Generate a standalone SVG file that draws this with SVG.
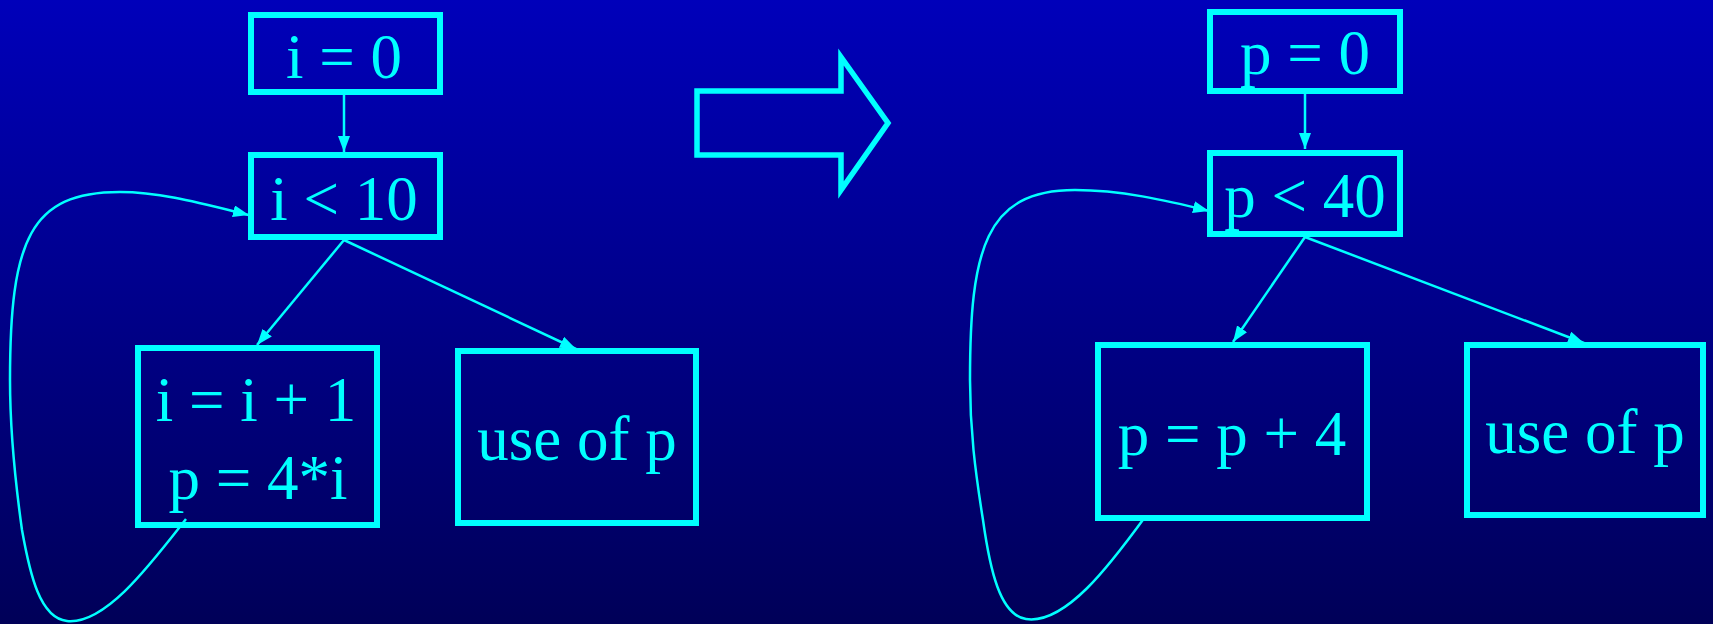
<svg xmlns="http://www.w3.org/2000/svg" width="1713" height="624" viewBox="0 0 1713 624">
<defs>
<linearGradient id="bg" x1="0" y1="0" x2="0" y2="1">
<stop offset="0" stop-color="#0000BA"/>
<stop offset="1" stop-color="#000058"/>
</linearGradient>
<marker id="ah" viewBox="0 0 16 12" refX="16" refY="6" markerWidth="16" markerHeight="12" markerUnits="userSpaceOnUse" orient="auto">
<path d="M0,0 L16,6 L0,12 Z" fill="#00FFFF"/>
</marker>
<style>
.box{fill:none;stroke:#00FFFF;stroke-width:6}
.t{font-family:"Liberation Serif","Times New Roman",serif;font-size:63px;fill:#00FFFF;text-anchor:middle}
.e{fill:none;stroke:#00FFFF;stroke-width:2.5;marker-end:url(#ah)}
</style>
</defs>
<rect width="1713" height="624" fill="url(#bg)"/>

<g id="connectors">
<line class="e" x1="344" y1="95" x2="344" y2="152"/>
<line class="e" x1="344" y1="240" x2="257" y2="345"/>
<line class="e" x1="344" y1="240" x2="576" y2="349"/>
<path class="e" d="M186,519 C150,565 105,625 67,621 C40,618 30,575 22,530 C15,480 10,430 10,380 C10,240 30,192 120,192 C160,192 200,203 249,215"/>
<line class="e" x1="1305" y1="93" x2="1305" y2="149"/>
<line class="e" x1="1305" y1="237" x2="1233" y2="342"/>
<line class="e" x1="1305" y1="237" x2="1584" y2="343"/>
<path class="e" d="M1145,517 C1110,565 1065,625 1026,619 C1000,615 990,570 983,520 C975,470 970,430 970,380 C970,250 985,190 1075,190 C1120,190 1165,200 1209,211"/>
</g>

<g id="n-i0">
<rect class="box" x="251" y="15" width="189" height="77"/>
<text class="t" x="344" y="78">i = 0</text>
</g>
<g id="n-ilt10">
<rect class="box" x="251" y="155" width="189" height="82"/>
<text class="t" x="344" y="220">i &lt; 10</text>
</g>
<g id="n-body-left">
<rect class="box" x="138" y="348" width="239" height="177"/>
<text class="t" x="256" y="421">i = i + 1</text>
<text class="t" x="258" y="499">p = 4*i</text>
</g>
<g id="n-use-left">
<rect class="box" x="458" y="351" width="238" height="172"/>
<text class="t" x="577" y="460">use of p</text>
</g>

<g id="big-arrow">
<polygon points="697,91 841,91 841,57 888,123 841,190 841,155 697,155" fill="none" stroke="#00FFFF" stroke-width="5.5"/>
</g>

<g id="n-p0">
<rect class="box" x="1210" y="12" width="190" height="79"/>
<text class="t" x="1305" y="74">p = 0</text>
</g>
<g id="n-plt40">
<rect class="box" x="1210" y="153" width="190" height="81"/>
<text class="t" x="1305" y="217">p &lt; 40</text>
</g>
<g id="n-body-right">
<rect class="box" x="1098" y="345" width="269" height="173"/>
<text class="t" x="1232" y="455">p = p + 4</text>
</g>
<g id="n-use-right">
<rect class="box" x="1467" y="345" width="236" height="170"/>
<text class="t" x="1585" y="453">use of p</text>
</g>
</svg>
